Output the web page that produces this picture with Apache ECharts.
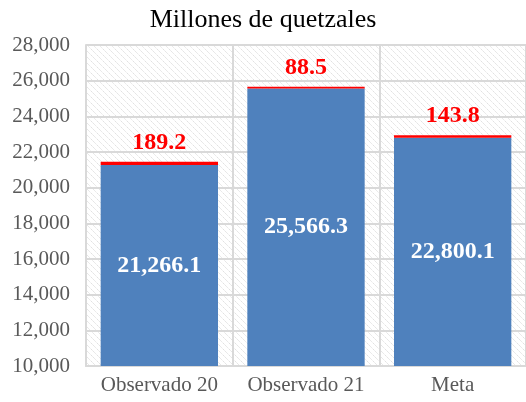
<!DOCTYPE html>
<html>
<head>
<meta charset="utf-8">
<script src="https://cdn.jsdelivr.net/npm/echarts@6/dist/echarts.min.js"></script>
<style>
  html, body { margin: 0; padding: 0; background: #fff; }
  #chart { width: 526px; height: 402px; }
</style>
</head>
<body>
<div id="chart"></div>
<script>
// datos
var categorias = ['Observado 20', 'Observado 21', 'Meta']
var valoresBase = [21266.1, 25566.3, 22800.1]
var valoresExtra = [189.2, 88.5, 143.8]

var serif = '"Liberation Serif", "Times New Roman", serif'

// trama diagonal del fondo del área de trazado
function crearTrama() {
  var c = document.createElement('canvas')
  c.width = 6
  c.height = 6
  var ctx = c.getContext('2d')
  ctx.fillStyle = '#ffffff'
  ctx.fillRect(0, 0, 6, 6)
  ctx.strokeStyle = '#dedede'
  ctx.lineWidth = 1
  ctx.setLineDash([2, 1])
  ctx.beginPath()
  ctx.moveTo(-1, -1)
  ctx.lineTo(7, 7)
  ctx.moveTo(-4, 2)
  ctx.lineTo(4, 10)
  ctx.moveTo(2, -4)
  ctx.lineTo(10, 4)
  ctx.stroke()
  return c
}

function miles(v, dec) {
  return v.toLocaleString('en-US', {
    minimumFractionDigits: dec,
    maximumFractionDigits: dec
  })
}

var myChart = echarts.init(document.getElementById('chart'))
var option = {
  animation: false,
  title: {
    text: 'Millones de quetzales',
    left: 'center',
    top: 2,
    textStyle: {
      fontFamily: serif,
      fontSize: 26,
      fontWeight: 'normal',
      color: '#000'
    }
  },
  grid: {
    left: 86,
    top: 45,
    width: 443,
    bottom: 36,
    show: true,
    borderWidth: 0,
    backgroundColor: { image: crearTrama(), repeat: 'repeat' }
  },
  xAxis: {
    type: 'category',
    data: categorias,
    axisTick: { show: false },
    axisLine: { lineStyle: { color: '#d9d9d9', width: 2 } },
    splitLine: { show: true, interval: 0, lineStyle: { color: '#d9d9d9', width: 2 } },
    axisLabel: {
      interval: 0,
      margin: 9,
      fontFamily: serif,
      fontSize: 21,
      color: '#595959'
    }
  },
  yAxis: {
    type: 'value',
    min: 10000,
    max: 28000,
    interval: 2000,
    axisLine: { show: true, lineStyle: { color: '#d9d9d9', width: 2 } },
    axisTick: { show: false },
    splitLine: { lineStyle: { color: '#d9d9d9', width: 2 } },
    axisLabel: {
      margin: 16,
      fontFamily: serif,
      fontSize: 21,
      color: '#595959',
      formatter: function (v) { return miles(v, 0) }
    }
  },
  series: [
    {
      type: 'bar',
      stack: 'total',
      barWidth: '80%',
      data: valoresBase,
      itemStyle: { color: '#4f81bd' },
      label: {
        show: true,
        position: 'inside',
        fontFamily: serif,
        fontSize: 24,
        fontWeight: 'bold',
        color: '#fff',
        formatter: function (p) { return miles(p.value, 1) }
      }
    },
    {
      type: 'bar',
      stack: 'total',
      data: valoresExtra,
      itemStyle: { color: '#ff0000' },
      label: {
        show: true,
        position: 'top',
        distance: 7,
        fontFamily: serif,
        fontSize: 24,
        fontWeight: 'bold',
        color: '#ff0000',
        formatter: function (p) { return miles(p.value, 1) }
      }
    }
  ]
}
myChart.setOption(option)
</script>
</body>
</html>
